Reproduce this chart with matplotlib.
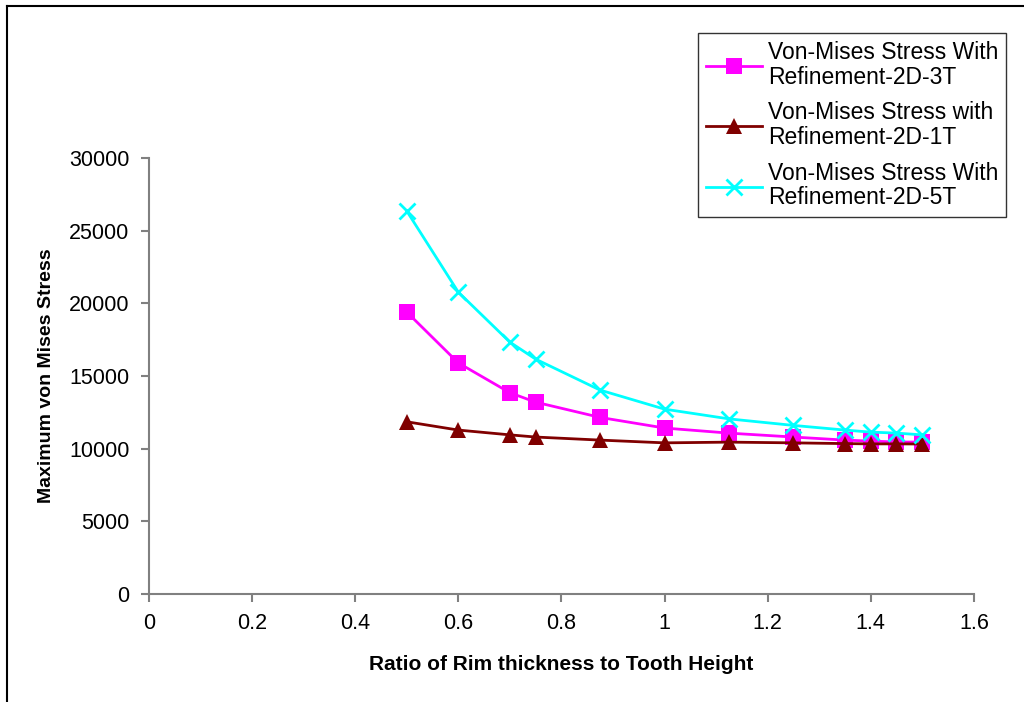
import matplotlib
matplotlib.use('Agg')
import matplotlib.pyplot as plt
from matplotlib.lines import Line2D

# 数据
ratio = [0.5, 0.6, 0.7, 0.75, 0.875, 1.0, 1.125, 1.25, 1.35, 1.4, 1.45, 1.5]
stress_3t = [19400, 15900, 13850, 13200, 12150, 11420, 11070, 10800, 10590, 10520, 10460, 10450]
stress_1t = [11850, 11280, 10950, 10800, 10590, 10400, 10450, 10400, 10350, 10330, 10330, 10320]
stress_5t = [26350, 20770, 17330, 16160, 14030, 12720, 12050, 11600, 11280, 11140, 11070, 10950]

labels = ['Von-Mises Stress With\nRefinement-2D-3T',
          'Von-Mises Stress with\nRefinement-2D-1T',
          'Von-Mises Stress With\nRefinement-2D-5T']

plt.rcParams['font.family'] = ['Liberation Sans', 'DejaVu Sans']

fig = plt.figure(figsize=(10.24, 7.02), dpi=100)
ax = fig.add_axes([0.1455, 0.1538, 0.8055, 0.6212])

ax.plot(ratio, stress_3t, color='#ff00ff', marker='s', markersize=11, linewidth=2,
        markeredgewidth=0, label=labels[0])
ax.plot(ratio, stress_1t, color='#800000', marker='^', markersize=11, linewidth=2,
        markeredgewidth=0, label=labels[1])
ax.plot(ratio, stress_5t, color='#00ffff', marker='x', markersize=11, linewidth=2,
        markeredgewidth=2, label=labels[2])

ax.set_xlim(0, 1.6)
ax.set_ylim(0, 30000)
ax.set_xticks([0, 0.2, 0.4, 0.6, 0.8, 1, 1.2, 1.4, 1.6])
ax.set_xticklabels(['0', '0.2', '0.4', '0.6', '0.8', '1', '1.2', '1.4', '1.6'])
ax.set_yticks(range(0, 30001, 5000))

for s in ['top', 'right']:
    ax.spines[s].set_visible(False)
for s in ['left', 'bottom']:
    ax.spines[s].set_color('#808080')
    ax.spines[s].set_linewidth(1.5)
ax.tick_params(direction='out', length=6, width=1.5, color='#808080',
               labelsize=15.5, pad=8)

ax.set_xlabel('Ratio of Rim thickness to Tooth Height', fontsize=15,
              fontweight='bold', labelpad=15)
ax.set_ylabel('Maximum von Mises Stress', fontsize=14, fontweight='bold', labelpad=10)

leg = ax.legend(loc='upper left', bbox_to_anchor=(0.6655, 1.287), fontsize=16.5,
                frameon=True, fancybox=False, handlelength=2.45, borderpad=0.35,
                labelspacing=0.55, handletextpad=0.26, borderaxespad=0)
leg.get_frame().set_edgecolor('black')
leg.get_frame().set_linewidth(1)
for t in leg.get_texts():
    t.set_linespacing(1.1)

# 外框
fig.add_artist(Line2D([0.007, 0.007], [0, 0.992], color='black', linewidth=1.5))
fig.add_artist(Line2D([0.007, 1.0], [0.992, 0.992], color='black', linewidth=1.5))

plt.savefig('out.png', dpi=100)
plt.close()
